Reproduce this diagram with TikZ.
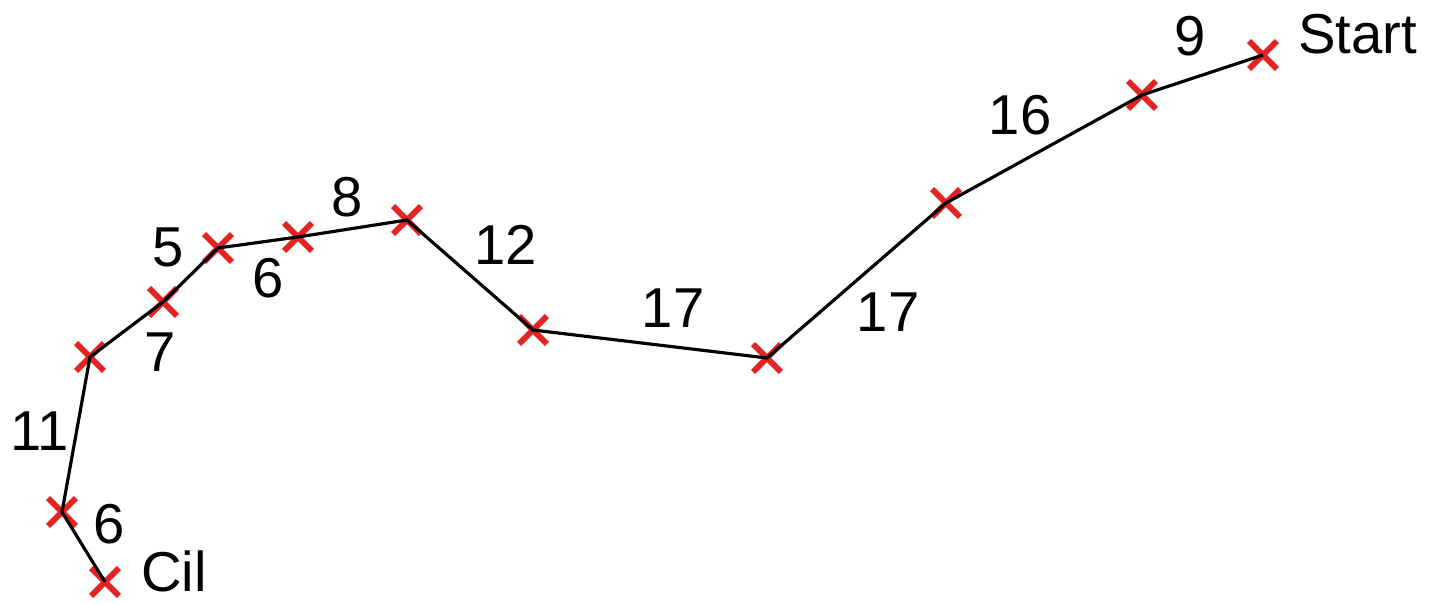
\documentclass[tikz,border=0pt]{standalone}
\usepackage{fontspec}
\setmainfont{Liberation Sans}
\usepackage{tikz}
\usetikzlibrary{shapes.misc}
\definecolor{markred}{HTML}{E42222}

\begin{document}
\begin{tikzpicture}[x=0.02cm,y=-0.02cm,
  pt/.style={cross out,draw=markred,line width=3.4pt,minimum size=0.44cm,inner sep=0pt},
  seg/.style={draw,line width=1.8pt},
  lbl/.style={font=\fontsize{32}{38}\selectfont,inner sep=0pt}]
\useasboundingbox (0,0) rectangle (1429,604);
% points along the route
\coordinate (start) at (1263,55);
\coordinate (a) at (1142,95);
\coordinate (b) at (946,203);
\coordinate (c) at (767,358);
\coordinate (d) at (533,330);
\coordinate (e) at (407,220);
\coordinate (f) at (298,237);
\coordinate (g) at (218,248);
\coordinate (h) at (163,302);
\coordinate (i) at (90,357);
\coordinate (j) at (62,512);
\coordinate (cil) at (105,582);
\foreach \p in {start,a,b,c,d,e,f,g,h,i,j,cil}
  \node[pt] (m\p) at (\p) {};
\draw[seg] (start) -- (a) -- (b) -- (c) -- (d) -- (e) -- (f) -- (g) -- (h) -- (i) -- (j) -- (cil);
% names and lengths
\node[lbl,anchor=base west] (tstart) at (1298,54) {Start};
\node[lbl,anchor=base west] (tcil) at (141,591) {Cil};
\node[lbl] (l1) at (1190,36) {9};
\node[lbl] (l2) at (1020,115) {16};
\node[lbl] (l3) at (888,312) {17};
\node[lbl] (l4) at (673,308) {17};
\node[lbl] (l5) at (506,245) {12};
\node[lbl] (l6) at (347,197) {8};
\node[lbl] (l7) at (268,278) {6};
\node[lbl] (l8) at (168,247) {5};
\node[lbl] (l9) at (160,352) {7};
\node[lbl] (l10) at (40,431) {11};
\node[lbl] (l11) at (109,524) {6};
\end{tikzpicture}
\end{document}
